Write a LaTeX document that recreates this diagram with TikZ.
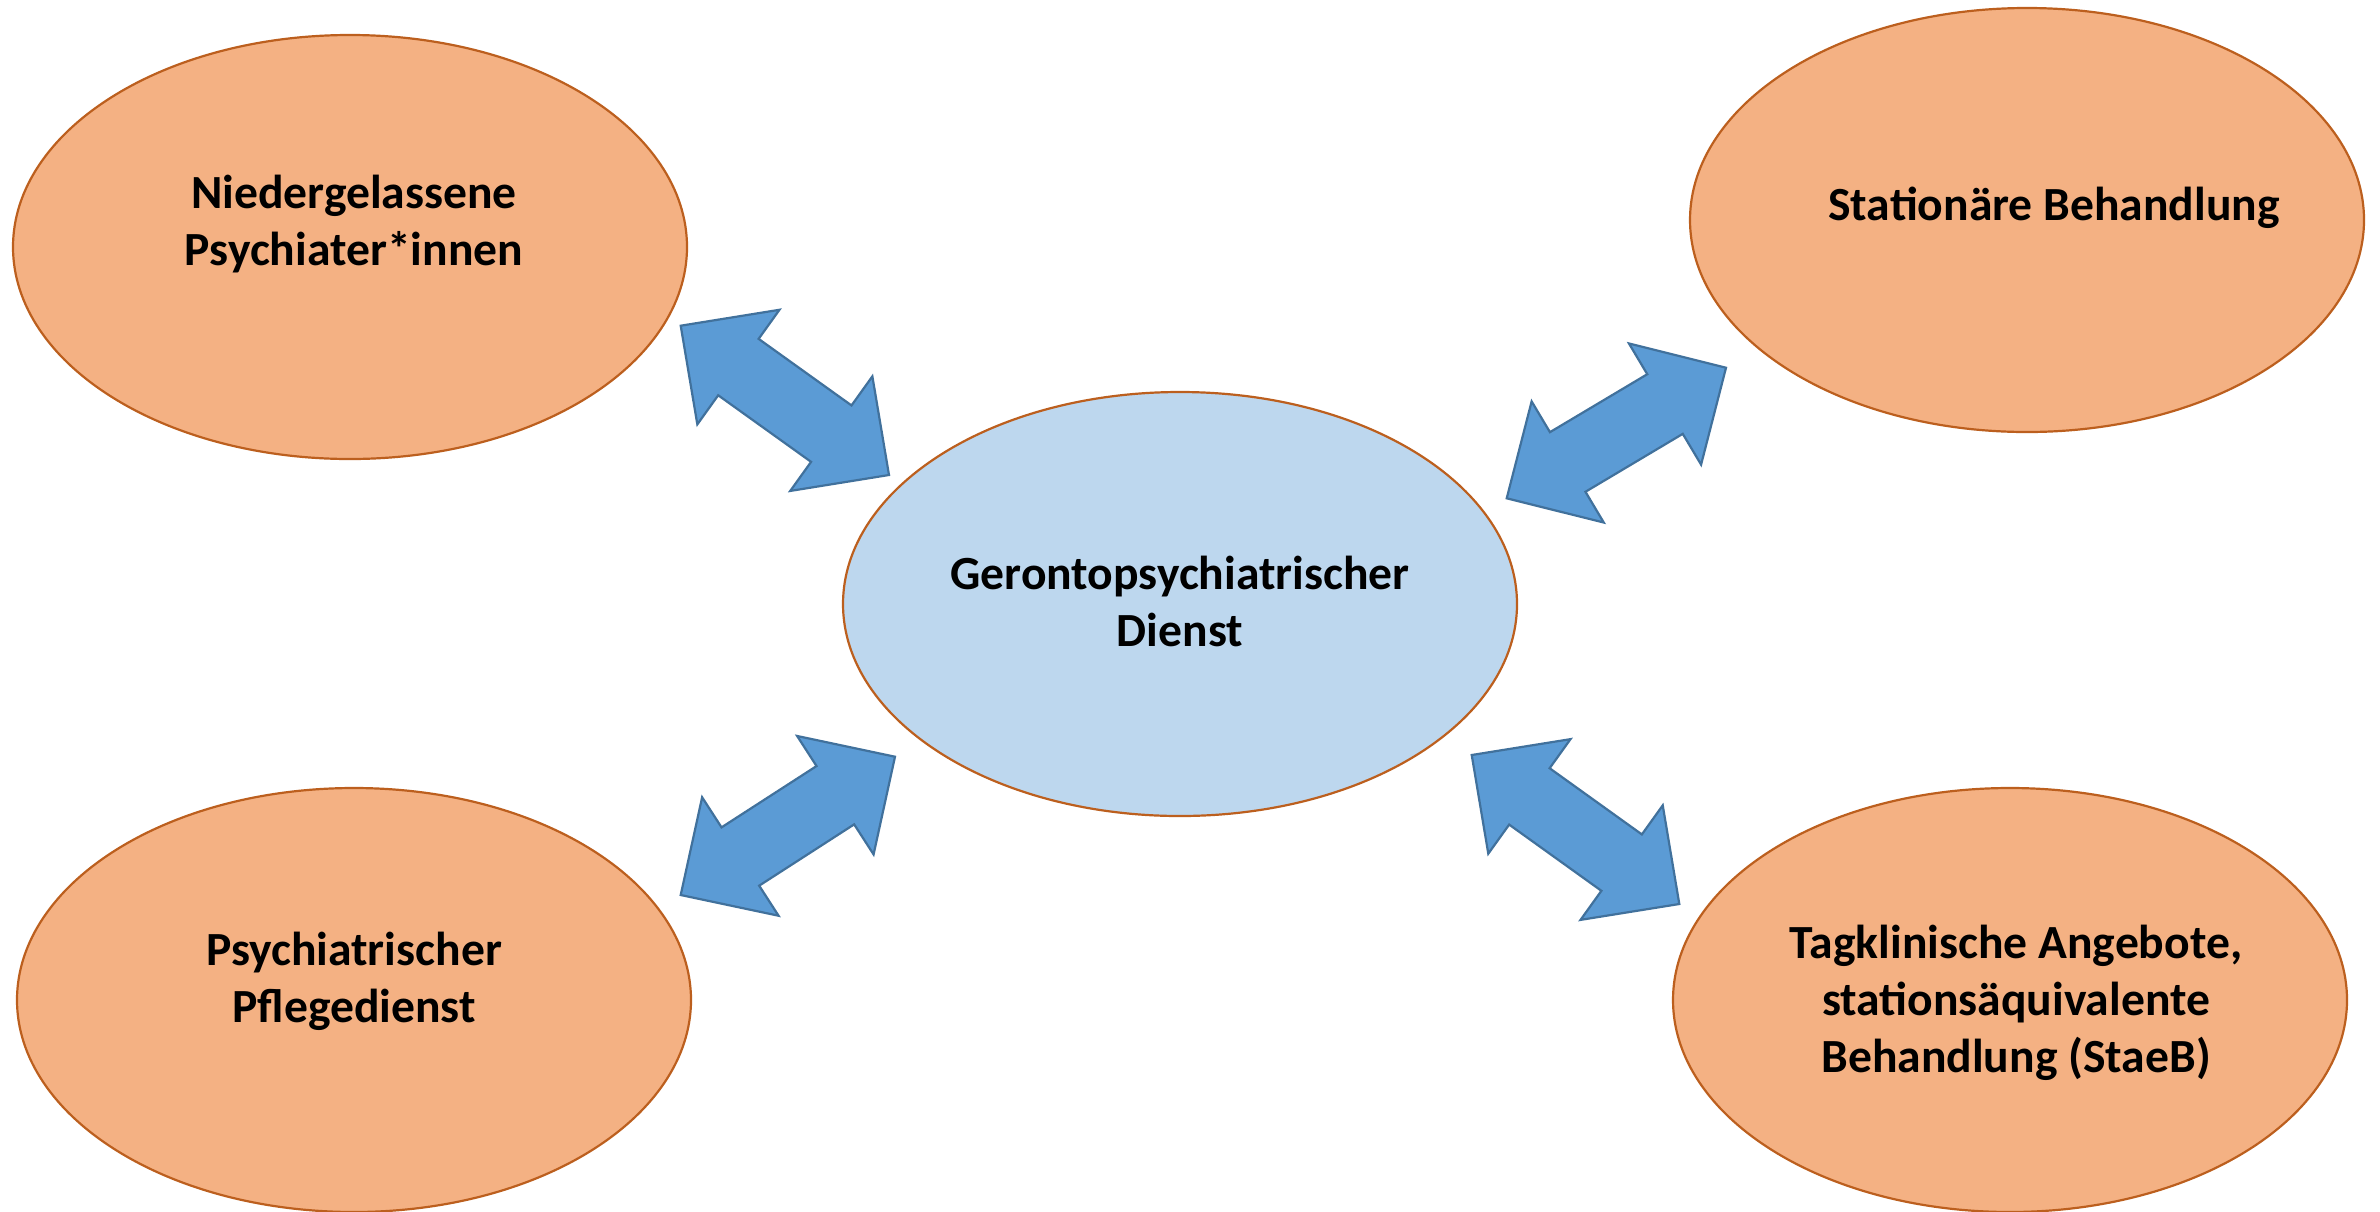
\documentclass[tikz,border=0pt]{standalone}
\usepackage{fontspec}
\setmainfont{Carlito}
\usetikzlibrary{shapes.geometric,calc}
\definecolor{orfill}{HTML}{F4B183}
\definecolor{ordraw}{HTML}{BC5F1E}
\definecolor{cfill}{HTML}{BDD7EE}
\definecolor{afill}{HTML}{5B9BD5}
\definecolor{adraw}{HTML}{41719C}
\def\ahl{35.5pt}
\def\ahw{35.25pt}
\def\asw{17.35pt}
\newcommand\blockarrow[2]{%
  \draw[barrow] (#1)
    -- ($(#1)!\ahl!(#2)!\ahw!90:(#2)$)
    -- ($(#1)!\ahl!(#2)!\asw!90:(#2)$)
    -- ($(#2)!\ahl!(#1)!\asw!-90:(#1)$)
    -- ($(#2)!\ahl!(#1)!\ahw!-90:(#1)$)
    -- (#2)
    -- ($(#2)!\ahl!(#1)!\ahw!90:(#1)$)
    -- ($(#2)!\ahl!(#1)!\asw!90:(#1)$)
    -- ($(#1)!\ahl!(#2)!\asw!-90:(#2)$)
    -- ($(#1)!\ahl!(#2)!\ahw!-90:(#2)$)
    -- cycle;}
\begin{document}
\begin{tikzpicture}[x=0.5pt,y=-0.5pt,
  bubble/.style={ellipse, draw=ordraw, line width=1.1pt, minimum width=337pt, minimum height=212pt, inner sep=0pt},
  outerbubble/.style={bubble, fill=orfill},
  centerbubble/.style={bubble, fill=cfill},
  lbl/.style={anchor=base, text width=320pt, align=flush center, inner sep=0pt,
    font=\fontsize{23.8}{28.5}\selectfont\bfseries},
  barrow/.style={fill=afill, draw=adraw, line width=1.1pt, line join=miter}]
\useasboundingbox (0,0) rectangle (2380,1211);
% bubbles
\node[outerbubble]  (tl) at (350,247)  {};
\node[outerbubble]  (tr) at (2027,220) {};
\node[centerbubble] (c)  at (1180,604) {};
\node[outerbubble]  (bl) at (354,1000) {};
\node[outerbubble]  (br) at (2010,1000) {};
% texts
\node[lbl] (tltxt) at (354,208)  {Niedergelassene\\Psychiater*innen};
\node[lbl] (trtxt) at (2054,220) {Stationäre Behandlung};
\node[lbl] (ctxt)  at (1180,589) {Gerontopsychiatrischer\\Dienst};
\node[lbl] (bltxt) at (354,965)  {Psychiatrischer\\Pflegedienst};
\node[lbl] (brtxt) at (2016,958) {Tagklinische Angebote,\\stationsäquivalente\\Behandlung (StaeB)};
% arrow ends
\coordinate (a1s) at (680.7,325.7);
\coordinate (a1e) at (889,475);
\coordinate (a2s) at (1506.7,498.3);
\coordinate (a2e) at (1726,367.7);
\coordinate (a3s) at (680.7,895);
\coordinate (a3e) at (895,756.7);
\coordinate (a4s) at (1471.7,755);
\coordinate (a4e) at (1679.3,904);
\blockarrow{a1s}{a1e}
\blockarrow{a2s}{a2e}
\blockarrow{a3s}{a3e}
\blockarrow{a4s}{a4e}
\end{tikzpicture}
\end{document}
